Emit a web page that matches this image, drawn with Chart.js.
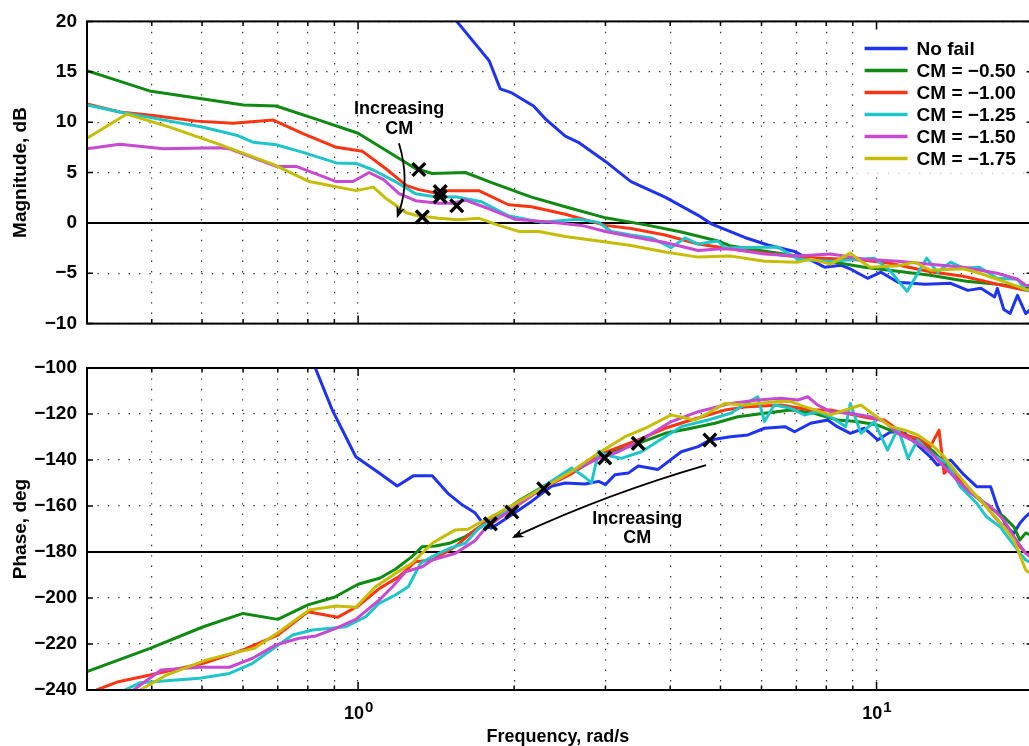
<!DOCTYPE html>
<html>
<head>
<meta charset="utf-8">
<script src="https://cdn.jsdelivr.net/npm/chart.js@4.4.0/dist/chart.umd.min.js"></script>
<style>
  html, body { margin: 0; padding: 0; background: #fff; overflow: hidden; width: 1029px; height: 746px; }
  canvas { position: absolute; left: 0; }
  #magChart { top: 0; }
  #phaseChart { top: 345px; }
</style>
</head>
<body>
<canvas id="magChart" width="1045" height="345"></canvas>
<canvas id="phaseChart" width="1045" height="401"></canvas>
<script>
// ---- axes ----
const X_MIN = 0.3, X_MAX = 20;
const X_GRID = [0.3, 0.4, 0.5, 0.6, 0.7, 0.8, 0.9, 1, 2, 3, 4, 5, 6, 7, 8, 9, 10, 20];
const X_LABEL_EXPS = [0, 1];              // 10^0, 10^1
const MAG_MIN = -10, MAG_MAX = 20, MAG_STEP = 5, MAG_REF = 0;
const PH_MIN = -240, PH_MAX = -100, PH_STEP = 20, PH_REF = -180;

const LABELS = ['No fail', 'CM = \u22120.50', 'CM = \u22121.00', 'CM = \u22121.25', 'CM = \u22121.50', 'CM = \u22121.75'];
const COLORS = ['#1f33f2', '#0f8a12', '#fb3412', '#1ec6ca', '#c84ad2', '#c6be06'];

// ---- magnitude, dB (frequency rad/s / value) ----
const MAG_F_NOFAIL = [1.55, 1.79, 1.88, 1.98, 2.10, 2.18, 2.30, 2.51, 2.66, 3.00, 3.36, 3.91, 4.53, 4.80, 5.57, 6.17, 6.95, 7.94, 8.53, 8.92, 9.61, 10.2, 11.0, 12.4, 13.9, 15.0, 15.9, 16.9, 17.1, 17.6, 18.1, 18.7, 19.4, 20];
const MAG_NOFAIL   = [20.0, 16.1, 13.3, 12.9, 12.1, 11.6, 10.3, 8.6, 8.0, 6.1, 4.1, 2.55, 0.75, -0.1, -1.45, -2.2, -2.85, -4.4, -4.2, -4.6, -5.5, -4.9, -5.9, -6.1, -6.0, -6.7, -6.5, -7.35, -6.5, -8.6, -9.0, -7.2, -9.0, -8.4];

const MAG_F_050 = [0.30, 0.396, 0.503, 0.601, 0.695, 0.841, 1.00, 1.29, 1.39, 1.61, 1.81, 2.16, 2.51, 3.00, 3.63, 4.20, 4.94, 5.24, 7.05, 9.48, 12.7, 14.9, 17.1, 19.4, 20];
const MAG_050   = [15.1, 13.1, 12.3, 11.7, 11.6, 10.2, 8.9, 5.4, 4.9, 5.0, 4.0, 2.55, 1.6, 0.5, -0.25, -0.9, -1.8, -2.3, -3.3, -4.4, -5.2, -5.8, -6.1, -6.5, -6.6];

const MAG_F_100 = [0.30, 0.347, 0.403, 0.488, 0.574, 0.686, 0.783, 0.908, 1.02, 1.13, 1.24, 1.31, 1.43, 1.47, 1.71, 1.95, 2.16, 2.51, 3.00, 3.36, 3.91, 4.53, 5.24, 7.05, 9.48, 10.6, 12.7, 14.7, 17.1, 19.4, 20];
const MAG_100   = [11.8, 11.0, 10.65, 10.1, 9.9, 10.2, 8.85, 7.5, 7.1, 5.4, 3.7, 3.3, 2.9, 3.2, 3.2, 1.8, 1.6, 0.85, -0.25, -0.55, -1.2, -2.1, -2.6, -3.4, -3.7, -4.0, -4.85, -5.3, -6.1, -6.7, -6.8];

const MAG_F_125 = [0.30, 0.347, 0.403, 0.503, 0.583, 0.628, 0.695, 0.783, 0.908, 0.991, 1.07, 1.17, 1.29, 1.43, 1.54, 1.73, 1.95, 2.26, 2.66, 2.91, 3.08, 3.36, 3.68, 4.02, 4.27, 4.53, 4.94, 5.10, 6.45, 7.05, 8.15, 9.90, 10.6, 11.45, 11.95, 12.5, 13.1, 13.9, 14.7, 15.8, 17.1, 18.7, 19.4, 20];
const MAG_125   = [11.7, 11.0, 10.4, 9.5, 8.7, 8.0, 7.75, 7.0, 5.95, 5.9, 5.25, 4.2, 2.9, 2.55, 2.6, 2.1, 0.7, 0.05, 0.35, 0.05, -0.85, -1.2, -1.5, -2.45, -1.5, -2.1, -1.8, -2.5, -2.4, -3.6, -3.8, -3.5, -4.7, -6.8, -5.2, -3.5, -4.9, -3.9, -4.5, -4.4, -5.5, -5.6, -6.7, -6.5];

const MAG_F_150 = [0.30, 0.347, 0.421, 0.54, 0.565, 0.695, 0.76, 0.908, 0.978, 1.05, 1.12, 1.20, 1.29, 1.43, 1.52, 1.61, 1.81, 2.01, 2.36, 2.70, 3.00, 3.36, 3.91, 4.53, 4.94, 5.24, 6.08, 7.05, 8.15, 9.48, 11.0, 12.7, 14.7, 17.1, 18.7, 19.4, 20];
const MAG_150   = [7.35, 7.8, 7.35, 7.45, 7.35, 5.6, 5.6, 4.1, 4.1, 5.0, 4.3, 2.9, 2.2, 1.95, 1.95, 2.25, 1.3, 0.35, 0.05, -0.25, -0.85, -1.35, -1.95, -2.75, -2.6, -2.6, -3.1, -3.3, -3.1, -3.6, -3.8, -4.1, -4.4, -5.0, -5.6, -6.2, -6.3];

const MAG_F_175 = [0.30, 0.358, 0.433, 0.54, 0.686, 0.805, 0.991, 1.07, 1.13, 1.24, 1.29, 1.43, 1.56, 1.71, 1.87, 2.04, 2.23, 2.51, 2.91, 3.36, 3.91, 4.53, 5.24, 6.08, 7.05, 7.49, 8.15, 8.90, 9.33, 9.73, 11.0, 11.85, 12.7, 14.7, 15.8, 17.1, 18.7, 19.4, 20];
const MAG_175   = [8.4, 10.8, 9.5, 7.8, 5.8, 4.1, 3.2, 3.55, 2.45, 1.0, 0.75, 0.45, 0.3, 0.45, -0.25, -0.85, -0.85, -1.35, -1.8, -2.25, -2.9, -3.4, -3.3, -3.8, -3.9, -3.6, -4.1, -3.0, -3.8, -4.4, -4.25, -3.9, -4.7, -4.55, -5.0, -5.6, -6.3, -6.6, -6.8];

const MAG_MARK_F = [1.31, 1.44, 1.44, 1.55, 1.33];
const MAG_MARK   = [5.3, 3.1, 2.6, 1.7, 0.6];

// ---- phase, deg ----
const PH_F_NOFAIL = [0.827, 0.892, 0.99, 1.10, 1.19, 1.28, 1.39, 1.49, 1.59, 1.68, 1.76, 1.81, 1.98, 2.16, 2.36, 2.51, 2.74, 2.91, 3.00, 3.13, 3.32, 3.47, 3.79, 4.20, 4.53, 4.77, 5.23, 5.65, 6.08, 6.66, 6.95, 7.46, 8.05, 8.40, 8.90, 9.48, 10.05, 10.65, 11.35, 12.0, 12.7, 13.1, 13.9, 14.75, 15.6, 16.6, 17.1, 17.8, 18.4, 18.9, 19.4, 20];
const PH_NOFAIL   = [-100, -118.3, -138.6, -145.8, -151.3, -146.8, -146.8, -154.5, -159.6, -162.9, -169, -169.6, -163.8, -158, -151.4, -150, -150.4, -149.3, -150.7, -146.4, -145.7, -142.6, -144.1, -136.4, -134.2, -131.3, -129.9, -129.1, -126.2, -125.5, -127.7, -124, -122.6, -125.5, -128.4, -126.2, -131.3, -127.7, -128.4, -133.5, -138.6, -142.2, -140, -146.5, -151.6, -151.6, -160.3, -169, -171.9, -167.5, -164.6, -162];

const PH_F_050 = [0.30, 0.397, 0.503, 0.60, 0.70, 0.80, 0.90, 1.0, 1.1, 1.18, 1.27, 1.33, 1.41, 1.50, 1.61, 1.71, 1.87, 2.03, 2.28, 2.58, 2.91, 3.18, 3.47, 3.91, 4.39, 4.88, 5.40, 6.08, 6.83, 7.58, 8.40, 9.17, 10.05, 11.0, 12.0, 12.9, 13.9, 14.75, 16.1, 17.6, 18.4, 18.9, 19.4, 20];
const PH_050   = [-232, -221.9, -212.5, -206.7, -209.3, -203, -199.7, -194, -191.4, -187.5, -182, -177.7, -177.4, -176.2, -173.3, -169.7, -163.9, -158.1, -151.4, -145.7, -138.8, -135.7, -132.8, -128.4, -126.2, -124, -121.2, -119.7, -118.3, -119.7, -122.6, -123.3, -124.8, -128.4, -131.3, -136.4, -144.3, -151.6, -158.8, -164.7, -169, -174.8, -171.7, -173];

const PH_F_100 = [0.313, 0.345, 0.397, 0.503, 0.60, 0.70, 0.80, 0.913, 1.0, 1.1, 1.2, 1.29, 1.39, 1.54, 1.68, 1.87, 2.03, 2.28, 2.58, 2.91, 3.47, 3.91, 4.39, 5.10, 5.65, 6.54, 7.46, 8.15, 9.07, 9.73, 10.35, 11.35, 12.0, 12.7, 13.2, 13.5, 13.9, 14.75, 15.8, 17.1, 18.1, 18.9, 19.4, 20];
const PH_100   = [-240, -236.4, -233.5, -228.4, -222.6, -216.1, -206, -208.4, -203.5, -195.8, -190.7, -184.2, -183.5, -177.7, -170.4, -163.2, -158.8, -152, -146, -137.8, -131.3, -126.2, -122.6, -118.3, -116.8, -116.1, -118.3, -118.3, -120.4, -121.9, -122.6, -129.1, -130.6, -134.2, -127, -145.8, -142.9, -151.6, -156.7, -166.1, -171.9, -177.7, -180.4, -182];

const PH_F_125 = [0.355, 0.38, 0.495, 0.565, 0.626, 0.694, 0.748, 0.817, 0.947, 1.035, 1.098, 1.18, 1.25, 1.32, 1.39, 1.50, 1.61, 1.71, 1.87, 2.28, 2.58, 2.74, 2.82, 2.91, 3.08, 3.22, 3.52, 3.91, 4.20, 4.73, 5.23, 5.75, 5.90, 6.08, 6.35, 6.83, 7.26, 7.70, 8.15, 8.72, 8.90, 9.33, 9.90, 10.5, 11.0, 11.5, 12.0, 12.7, 13.7, 14.5, 15.6, 16.3, 17.3, 18.1, 18.7, 19.4, 20];
const PH_125   = [-240, -236.8, -234.9, -232.8, -228.4, -221.2, -216.1, -213.9, -212.5, -208.1, -202.3, -198.7, -195.1, -184.9, -182, -178.4, -176.2, -169.7, -164.6, -151.4, -143.5, -147.5, -150, -136.2, -138.4, -139.3, -136.4, -129.9, -125.5, -122.6, -119.7, -113.9, -112.5, -123.3, -116.1, -117.5, -120.4, -119, -121.2, -125.5, -115.4, -128.4, -123.3, -135.7, -126.2, -139.3, -131.3, -137.1, -141.4, -151.6, -158.8, -164.7, -169, -174.8, -179.1, -183.5, -185];

const PH_F_150 = [0.369, 0.417, 0.495, 0.565, 0.626, 0.694, 0.77, 0.829, 0.906, 0.99, 1.098, 1.165, 1.235, 1.33, 1.39, 1.54, 1.68, 1.76, 1.87, 2.28, 2.58, 2.91, 3.18, 3.47, 4.02, 4.53, 5.23, 5.90, 6.54, 7.05, 7.37, 7.70, 8.15, 8.90, 9.73, 10.35, 11.0, 11.85, 12.7, 13.5, 14.3, 15.2, 16.6, 17.6, 18.4, 19.4, 20];
const PH_150   = [-240, -231.3, -230.1, -230.1, -226.2, -220.4, -217.5, -216.5, -213.2, -209.3, -200.9, -195.1, -188.6, -186.4, -183.5, -180.6, -175.1, -169.7, -165.3, -152, -145, -139.3, -136.4, -132, -123.3, -119, -115.4, -113.9, -113.2, -113.9, -112.5, -116.1, -119, -119.7, -121.2, -123.3, -128.4, -132, -136.4, -142.9, -148.7, -154.5, -160.3, -166.1, -173.3, -180.6, -183];

const PH_F_175 = [0.38, 0.427, 0.509, 0.565, 0.631, 0.705, 0.805, 0.906, 0.99, 1.08, 1.18, 1.27, 1.39, 1.47, 1.54, 1.63, 1.71, 1.87, 2.28, 2.58, 2.91, 3.29, 3.58, 4.02, 4.46, 4.73, 5.10, 5.57, 6.45, 6.83, 7.26, 8.15, 9.33, 9.90, 10.65, 11.35, 12.0, 12.7, 13.5, 14.3, 15.2, 16.3, 17.6, 18.4, 19.4, 20];
const PH_175   = [-240, -233.5, -227, -224.3, -221.9, -214.7, -205.2, -203.5, -204, -195.1, -189.3, -184.9, -176.2, -173, -170.4, -170.1, -167.5, -162.9, -152, -145, -137, -129.6, -126.2, -120.4, -122.6, -119.7, -115.4, -116.1, -114.6, -114.6, -116.8, -120.4, -116.1, -120.4, -125.5, -127, -129.1, -132.8, -138.6, -145.8, -153, -160.3, -169, -174.8, -187.8, -190];

const PH_MARK_F = [1.80, 1.98, 2.28, 2.99, 3.47, 4.77];
const PH_MARK   = [-167.8, -162.6, -152.5, -139.1, -132.8, -131.3];

// ---- annotations (data coords) ----
const MAG_NOTE = { x: 1.2, lines: [10.85, 8.85], arrow: [[1.199, 7.9], [1.259, 4.25], [1.188, 0.45]] };
const PH_NOTE  = { x: 3.455, lines: [-167.8, -176.2], arrow: [[4.69, -142.2], [3.03, -154.6], [1.98, -173.9]] };

const MAG_SERIES = [[MAG_F_NOFAIL, MAG_NOFAIL], [MAG_F_050, MAG_050], [MAG_F_100, MAG_100], [MAG_F_125, MAG_125], [MAG_F_150, MAG_150], [MAG_F_175, MAG_175]];
const PH_SERIES  = [[PH_F_NOFAIL, PH_NOFAIL], [PH_F_050, PH_050], [PH_F_100, PH_100], [PH_F_125, PH_125], [PH_F_150, PH_150], [PH_F_175, PH_175]];

const FONT = '"Liberation Sans", Arial, Helvetica, sans-serif';
const GRID_COLOR = 'rgba(30,30,30,0.9)';
const GRID_DASH = [1.4, 9];

const zip = (xs, ys) => xs.map((x, i) => ({ x, y: ys[i] }));

function buildDatasets(series, markF, markV) {
  const sets = series.map(([f, v], i) => ({
    label: LABELS[i],
    data: zip(f, v),
    borderColor: COLORS[i],
    backgroundColor: COLORS[i],
    borderWidth: 3,
    pointRadius: 0,
    tension: 0,
    borderJoinStyle: 'round',
    order: -i
  }));
  sets.push({
    label: 'crossover',
    data: zip(markF, markV),
    showLine: false,
    pointStyle: 'crossRot',
    pointRadius: 9,
    pointBorderWidth: 3.4,
    borderColor: '#000',
    backgroundColor: '#000',
    order: -20
  });
  return sets;
}

function yFmt(v) {
  return v < 0 ? '\u2212' + Math.abs(v) : String(v);
}

// black box round the plot plus the small inward ticks
const framePlugin = {
  id: 'frame',
  afterDatasetsDraw(chart) {
    const { ctx, chartArea: a, scales: { x, y } } = chart;
    ctx.save();
    ctx.strokeStyle = '#000';
    ctx.lineWidth = 1.5;
    ctx.beginPath();
    X_GRID.forEach(v => {
      const px = x.getPixelForValue(v);
      const len = (v === 1 || v === 10) ? 8 : 4.5;
      ctx.moveTo(px, a.bottom); ctx.lineTo(px, a.bottom - len);
      ctx.moveTo(px, a.top); ctx.lineTo(px, a.top + len);
    });
    y.ticks.forEach(t => {
      const py = y.getPixelForValue(t.value);
      ctx.moveTo(a.left, py); ctx.lineTo(a.left + 6, py);
      ctx.moveTo(a.right, py); ctx.lineTo(a.right - 6, py);
    });
    ctx.stroke();
    ctx.lineWidth = 2;
    ctx.strokeRect(a.left, a.top, a.right - a.left, a.bottom - a.top);
    ctx.restore();
  }
};

function yTitlePlugin(text) {
  return {
    id: 'yTitle',
    afterDraw(chart) {
      const { ctx, chartArea: a } = chart;
      ctx.save();
      ctx.translate(21, (a.top + a.bottom) / 2);
      ctx.rotate(-Math.PI / 2);
      ctx.font = 'bold 19px ' + FONT;
      ctx.fillStyle = '#000';
      ctx.textAlign = 'center';
      ctx.textBaseline = 'middle';
      ctx.fillText(text, 0, 0);
      ctx.restore();
    }
  };
}

function notePlugin(note) {
  return {
    id: 'note',
    afterDatasetsDraw(chart) {
      const { ctx, scales: { x, y } } = chart;
      const p = note.arrow.map(([fx, fy]) => [x.getPixelForValue(fx), y.getPixelForValue(fy)]);
      ctx.save();
      ctx.strokeStyle = '#000';
      ctx.fillStyle = '#000';
      ctx.lineWidth = 1.8;
      const ang = Math.atan2(p[2][1] - p[1][1], p[2][0] - p[1][0]);
      const headLen = 12, headW = 4.5;
      const ex = p[2][0] - Math.cos(ang) * headLen * 0.7;
      const ey = p[2][1] - Math.sin(ang) * headLen * 0.7;
      ctx.beginPath();
      ctx.moveTo(p[0][0], p[0][1]);
      ctx.quadraticCurveTo(p[1][0], p[1][1], ex, ey);
      ctx.stroke();
      ctx.beginPath();
      ctx.moveTo(p[2][0], p[2][1]);
      ctx.lineTo(p[2][0] - Math.cos(ang) * headLen - Math.sin(ang) * headW, p[2][1] - Math.sin(ang) * headLen + Math.cos(ang) * headW);
      ctx.lineTo(p[2][0] - Math.cos(ang) * headLen * 0.7, p[2][1] - Math.sin(ang) * headLen * 0.7);
      ctx.lineTo(p[2][0] - Math.cos(ang) * headLen + Math.sin(ang) * headW, p[2][1] - Math.sin(ang) * headLen - Math.cos(ang) * headW);
      ctx.closePath();
      ctx.fill();

      ctx.font = 'bold 18px ' + FONT;
      ctx.textAlign = 'center';
      ctx.textBaseline = 'alphabetic';
      const tx = x.getPixelForValue(note.x);
      ['Increasing', 'CM'].forEach((t, i) => ctx.fillText(t, tx, y.getPixelForValue(note.lines[i])));
      ctx.restore();
    }
  };
}

const legendPlugin = {
  id: 'seriesLegend',
  afterDatasetsDraw(chart) {
    const { ctx, chartArea: a } = chart;
    const left = a.right - 178;
    ctx.save();
    ctx.fillStyle = '#fff';
    ctx.fillRect(left, a.top + 1.5, 200, 150);
    ctx.font = 'bold 19px ' + FONT;
    ctx.textBaseline = 'middle';
    ctx.textAlign = 'left';
    LABELS.forEach((lab, i) => {
      const yy = a.top + 27 + i * 22;
      ctx.strokeStyle = COLORS[i];
      ctx.lineWidth = 3.5;
      ctx.beginPath();
      ctx.moveTo(left + 10, yy);
      ctx.lineTo(left + 53, yy);
      ctx.stroke();
      ctx.fillStyle = '#000';
      ctx.fillText(lab, left + 62, yy + 1);
    });
    ctx.restore();
  }
};

const xLabelPlugin = {
  id: 'xLabels',
  afterDraw(chart) {
    const { ctx, chartArea: a, scales: { x } } = chart;
    ctx.save();
    ctx.fillStyle = '#000';
    ctx.textBaseline = 'alphabetic';
    ctx.textAlign = 'left';
    X_LABEL_EXPS.forEach(e => {
      const px = x.getPixelForValue(Math.pow(10, e));
      ctx.font = 'bold 18px ' + FONT;
      const w1 = ctx.measureText('10').width;
      ctx.font = 'bold 15px ' + FONT;
      const w2 = ctx.measureText(String(e)).width;
      const x0 = px - (w1 + w2) / 2;
      ctx.font = 'bold 18px ' + FONT;
      ctx.fillText('10', x0, a.bottom + 29);
      ctx.font = 'bold 15px ' + FONT;
      ctx.fillText(String(e), x0 + w1 + 1, a.bottom + 22);
    });
    ctx.font = 'bold 18px ' + FONT;
    ctx.textAlign = 'center';
    ctx.fillText('Frequency, rad/s', (a.left + a.right) / 2 - 2, a.bottom + 52);
    ctx.restore();
  }
};

function makeChart(id, datasets, yMin, yMax, yStep, yRef, padTop, xHeight, plugins) {
  const isRef = c => c.tick && c.tick.value === yRef;
  return new Chart(document.getElementById(id), {
    type: 'line',
    data: { datasets },
    options: {
      responsive: false,
      animation: false,
      events: [],
      layout: { padding: { top: padTop, right: 10, bottom: 0, left: 0 } },
      plugins: { legend: { display: false }, tooltip: { enabled: false } },
      scales: {
        x: {
          type: 'logarithmic',
          min: X_MIN,
          max: X_MAX,
          afterBuildTicks: s => { s.ticks = X_GRID.map(v => ({ value: v })); },
          afterFit: s => { s.height = xHeight; },
          ticks: { display: false },
          grid: { color: GRID_COLOR, lineWidth: 1.2, drawTicks: false },
          border: { display: false, dash: GRID_DASH }
        },
        y: {
          min: yMin,
          max: yMax,
          afterFit: s => { s.width = 87; },
          ticks: {
            stepSize: yStep,
            padding: 10,
            color: '#000',
            font: { family: FONT, size: 19, weight: 'bold' },
            callback: yFmt
          },
          grid: {
            drawTicks: false,
            color: c => isRef(c) ? '#000' : GRID_COLOR,
            lineWidth: c => isRef(c) ? 2 : 1.2
          },
          border: { display: false, dash: c => isRef(c) ? [] : GRID_DASH }
        }
      }
    },
    plugins
  });
}

makeChart('magChart', buildDatasets(MAG_SERIES, MAG_MARK_F, MAG_MARK),
  MAG_MIN, MAG_MAX, MAG_STEP, MAG_REF, 14, 10,
  [legendPlugin, notePlugin(MAG_NOTE), framePlugin, yTitlePlugin('Magnitude, dB')]);

makeChart('phaseChart', buildDatasets(PH_SERIES, PH_MARK_F, PH_MARK),
  PH_MIN, PH_MAX, PH_STEP, PH_REF, 23, 56,
  [notePlugin(PH_NOTE), framePlugin, yTitlePlugin('Phase, deg'), xLabelPlugin]);
</script>
</body>
</html>
